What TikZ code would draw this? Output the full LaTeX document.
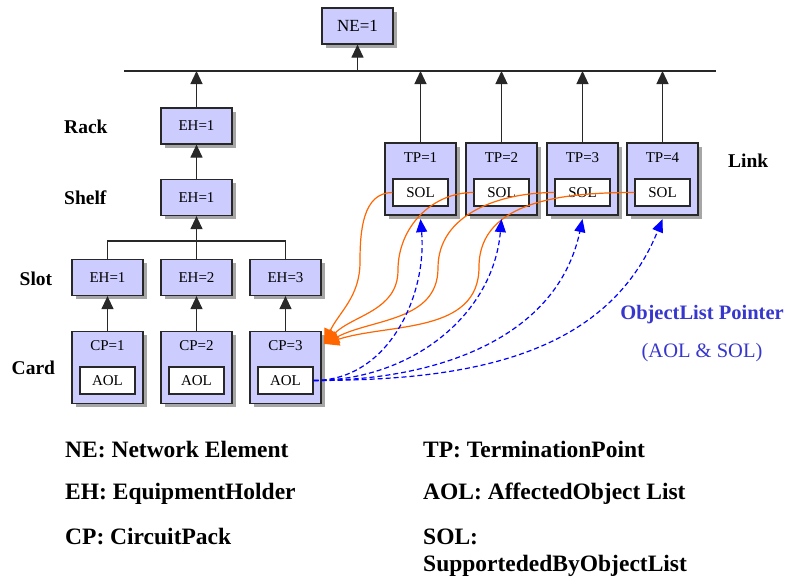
\documentclass[tikz,border=0pt]{standalone}
\usepackage{fontspec}
\setmainfont{Liberation Serif}
\usetikzlibrary{arrows.meta,shadows,calc}
\definecolor{boxfill}{RGB}{204,204,255}
\definecolor{edgegray}{RGB}{40,40,40}
\definecolor{linkorange}{RGB}{255,102,0}
\definecolor{ptrblue}{RGB}{0,0,255}
\definecolor{txtblue}{RGB}{55,55,205}
\begin{document}
\begin{tikzpicture}[x=1pt,y=-1pt,
 obj/.style={draw=edgegray, line width=1.2pt, fill=boxfill, minimum width=71pt, inner sep=0pt,
   drop shadow={shadow xshift=3.5pt, shadow yshift=-3.5pt, fill=black, opacity=0.35},
   font=\fontsize{15}{18}\selectfont},
 smallbox/.style={obj, minimum height=36pt},
 bigbox/.style={obj, minimum height=72pt},
 listbox/.style={draw=edgegray, line width=1.2pt, fill=white, minimum width=55pt, minimum height=27pt, inner sep=0pt, font=\fontsize{15}{18}\selectfont},
 lbl/.style={font=\fontsize{15}{18}\selectfont, inner sep=0pt},
 lvl/.style={font=\bfseries\fontsize{19.5}{23}\selectfont, anchor=west, inner sep=0pt},
 leg/.style={font=\bfseries\fontsize{23.5}{28}\selectfont, anchor=west, inner sep=0pt},
 up/.style={draw=edgegray, line width=1.2pt, -{Triangle[length=13pt,width=12pt]}},
 tree/.style={draw=edgegray, line width=1.2pt},
 ocurve/.style={draw=linkorange, line width=1.2pt, -{Triangle[length=15pt,width=13pt]}},
 bcurve/.style={draw=ptrblue, line width=1.2pt, dash pattern=on 5pt off 3pt, -{Triangle[length=13pt,width=11pt]}},
 ptrtxt/.style={text=txtblue, inner sep=0pt, font=\fontsize{20.5}{24}\selectfont},
]
\useasboundingbox (0,0) rectangle (788,579);

% NE and bus
\node[smallbox, font=\fontsize{17}{20}\selectfont] (ne) at (357.5,26) {NE=1};
\coordinate (busL) at (124,71);
\coordinate (busR) at (716,71);
\draw[tree] (busL) -- (busR);
\draw[up] (ne.south |- busL) -- (ne.south);

% equipment holders
\node[smallbox] (rack) at (196.5,126) {EH=1};
\node[smallbox] (shelf) at (196.5,197.5) {EH=1};
\node[smallbox] (s1) at (107.5,277.5) {EH=1};
\node[smallbox] (s2) at (196.5,277.5) {EH=2};
\node[smallbox] (s3) at (285.5,277.5) {EH=3};

% cards
\foreach \i/\x in {1/107.5,2/196.5,3/285.5}{
  \node[bigbox] (c\i) at (\x,367.5) {};
  \node[lbl] (c\i l) at (\x,346) {CP=\i};
  \node[listbox] (aol\i) at (\x,380.5) {AOL};
}

% termination points
\foreach \i/\x in {1/420.5,2/501.5,3/582.5,4/662.5}{
  \node[bigbox] (tp\i) at (\x,179) {};
  \node[lbl] (tp\i l) at (\x,158) {TP=\i};
  \node[listbox] (sol\i) at (\x,192.5) {SOL};
  \draw[up] (tp\i.north) -- (tp\i.north |- busL);
}

% tree connectors
\draw[up] (rack.north) -- (rack.north |- busL);
\draw[up] (shelf.north) -- (rack.south);
\draw[up] (s2.north) -- (shelf.south);
\draw[tree] (s1.north) |- ($(s3.north)+(0,-18)$) -- (s3.north);
\draw[up] (c1.north) -- (s1.south);
\draw[up] (c2.north) -- (s2.south);
\draw[up] (c3.north) -- (s3.south);

% level labels
\node[lvl] (rackt) at (64,127) {Rack};
\node[lvl] (shelft) at (64,198) {Shelf};
\node[lvl] (slott) at (19.5,279) {Slot};
\node[lvl] (cardt) at (11.5,368) {Card};
\node[lvl] (linkt) at (728,161) {Link};

% orange SOL -> CP links
\coordinate (cpin) at ($(c3.north east)+(2.5,13)$);
\coordinate (m1) at (360,262);
\coordinate (m2) at (398,270);
\coordinate (m3) at (438,268);
\coordinate (m4) at (479,267);
\draw[ocurve] (sol1.west) to[out=180,in=90] (m1) to[out=-90,in=65] (cpin);
\draw[ocurve] (sol2.west) to[out=180,in=90] (m2) to[out=-90,in=45] (cpin);
\draw[ocurve] (sol3.west) to[out=180,in=90] (m3) to[out=-90,in=28] (cpin);
\draw[ocurve] (sol4.west) to[out=180,in=90] (m4) to[out=-90,in=18] (cpin);

% blue AOL -> TP pointers
\foreach \i/\a in {1/-85,2/-95,3/-102,4/-112}{
  \coordinate (t\i) at ($(tp\i.south)+(0,3.5)$);
  \draw[bcurve] (aol3.east) to[out=0,in=\a] (t\i);
}

% pointer caption
\node[ptrtxt, font=\bfseries\fontsize{20.5}{24}\selectfont] (optr) at (702,315) {ObjectList Pointer};
\node[ptrtxt] (optr2) at (702,353) {(AOL \& SOL)};

% legend
\node[leg] (lg1) at (65,450) {NE: Network Element};
\node[leg] (lg2) at (65,494) {EH: EquipmentHolder};
\node[leg] (lg3) at (65,537) {CP: CircuitPack};
\node[leg] (lg4) at (423,450) {TP: TerminationPoint};
\node[leg] (lg5) at (423,494) {AOL: AffectedObject List};
\node[leg] (lg6) at (423,537) {SOL:};
\node[leg] (lg7) at (423,566) {SupportededByObjectList};
\end{tikzpicture}
\end{document}
